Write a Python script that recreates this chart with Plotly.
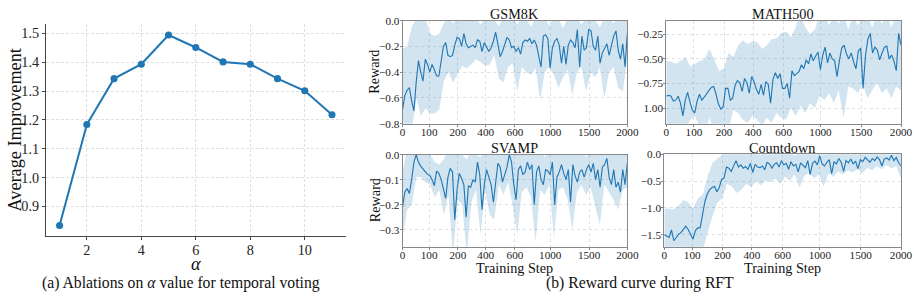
import plotly.graph_objects as go
import numpy as np

# ---------------- data ----------------
ALPHA = [1, 2, 3, 4, 5, 6, 7, 8, 9, 10, 11]
AVG_IMPROVEMENT = [0.834, 1.184, 1.343, 1.393, 1.494, 1.451, 1.401, 1.393, 1.343, 1.301, 1.218]

STEP_TICKS = [0, 100, 200, 400, 600, 1000, 1500, 2000]
STEP_TICK_FRAC = [0, 0.118, 0.246, 0.37, 0.50, 0.657, 0.83, 1.0]

GSM8K_MEAN = [
    -0.69, -0.58, -0.54, -0.52, -0.62, -0.70, -0.48, -0.31, -0.40, -0.47,
    -0.30, -0.34, -0.40, -0.34, -0.38, -0.43, -0.43, -0.33, -0.20, -0.17,
    -0.27, -0.28, -0.27, -0.19, -0.13, -0.14, -0.20, -0.10, -0.18, -0.21,
    -0.20, -0.19, -0.21, -0.15, -0.16, -0.24, -0.17, -0.20, -0.24, -0.21,
    -0.16, -0.09, -0.20, -0.28, -0.24, -0.18, -0.13, -0.15, -0.21, -0.20,
    -0.24, -0.21, -0.26, -0.17, -0.15, -0.16, -0.14, -0.18, -0.15, -0.19,
    -0.27, -0.36, -0.12, -0.11, -0.14, -0.37, -0.21, -0.16, -0.14, -0.19,
    -0.33, -0.20, -0.34, -0.19, -0.15, -0.17, -0.21, -0.07, -0.36, -0.12,
    -0.23, -0.21, -0.07, -0.08, -0.20, -0.23, -0.12, -0.33, -0.25, -0.21,
    -0.18, -0.27, -0.19, -0.12, -0.08, -0.23, -0.30, -0.18, -0.36, -0.10,
]
GSM8K_UPPER = [
    -0.22, -0.20, -0.05, 0.02, 0.02, 0.02, -0.10, -0.12, -0.10, -0.02,
    0.02, -0.02, 0.02, 0.02, 0.0, 0.02, 0.02, -0.03, 0.02, 0.02,
    0.0, -0.04, 0.02, 0.02, 0.02, -0.03, 0.02, 0.02, -0.05, 0.02,
    0.0, 0.02, -0.04, 0.02, 0.02, -0.06, 0.02, 0.0, 0.02, -0.03,
    0.02, 0.02, 0.0, -0.05, 0.02, 0.02, -0.02, 0.02, 0.0, 0.02,
]
GSM8K_LOWER = [
    -0.85, -0.85, -0.85, -0.60, -0.74, -0.68, -0.72, -0.72, -0.69, -0.47,
    -0.40, -0.48, -0.41, -0.35, -0.37, -0.34, -0.30, -0.32, -0.35, -0.34,
    -0.27, -0.45, -0.48, -0.36, -0.33, -0.55, -0.36, -0.40, -0.42, -0.37,
    -0.62, -0.40, -0.36, -0.42, -0.52, -0.44, -0.38, -0.58, -0.40, -0.36,
    -0.55, -0.40, -0.44, -0.36, -0.60, -0.40, -0.36, -0.52, -0.55, -0.30,
]

MATH500_MEAN = [
    -0.88, -0.87, -0.88, -0.93, -0.92, -0.88, -0.95, -1.08, -0.92, -0.84,
    -0.94, -1.02, -1.05, -0.93, -0.86, -0.92, -0.89, -0.85, -0.82, -0.79,
    -0.78, -0.86, -0.96, -1.01, -0.99, -0.80, -0.80, -0.92, -0.90, -0.77,
    -0.72, -0.74, -0.83, -0.70, -0.74, -0.85, -0.68, -0.73, -0.81, -0.86,
    -0.76, -0.87, -0.73, -0.76, -0.95, -0.71, -0.64, -0.70, -0.65, -0.80,
    -0.80, -0.75, -0.90, -0.62, -0.67, -0.65, -0.63, -0.56, -0.60, -0.51,
    -0.55, -0.45, -0.52, -0.47, -0.43, -0.61, -0.46, -0.38, -0.54, -0.44,
    -0.50, -0.52, -0.68, -0.52, -0.39, -0.36, -0.45, -0.50, -0.44, -0.53,
    -0.60, -0.42, -0.39, -0.80, -0.47, -0.30, -0.24, -0.44, -0.38, -0.41,
    -0.51, -0.44, -0.38, -0.37, -0.50, -0.46, -0.52, -0.62, -0.24, -0.36,
]
MATH500_UPPER = [
    -0.52, -0.53, -0.55, -0.52, -0.48, -0.58, -0.55, -0.52, -0.50, -0.40,
    -0.50, -0.62, -0.60, -0.44, -0.48, -0.36, -0.31, -0.35, -0.32, -0.33,
    -0.40, -0.36, -0.30, -0.29, -0.24, -0.22, -0.28, -0.18, -0.05, -0.18,
    -0.25, -0.20, -0.05, -0.05, -0.16, -0.05, -0.14, -0.05, -0.20, -0.05,
    -0.16, -0.05, -0.05, -0.18, -0.05, -0.14, -0.05, -0.18, -0.05, -0.05,
]
MATH500_LOWER = [
    -1.25, -1.25, -1.20, -1.25, -1.20, -1.12, -1.08, -1.20, -1.25, -1.10,
    -1.25, -1.20, -1.25, -1.22, -1.02, -1.05, -1.12, -1.15, -1.08, -1.12,
    -1.18, -1.10, -1.15, -1.05, -1.10, -1.12, -1.00, -1.08, -0.98, -1.05,
    -0.95, -1.00, -0.88, -0.92, -0.85, -0.95, -0.82, -1.10, -0.78, -0.80,
    -0.85, -0.75, -0.90, -0.82, -0.74, -0.85, -0.80, -0.90, -0.78, -0.82,
]

SVAMP_MEAN = [
    -0.21, -0.15, -0.135, -0.155, -0.10, -0.03, 0.0, -0.03, -0.046, -0.055,
    -0.068, -0.079, -0.083, -0.10, -0.124, -0.066, -0.075, -0.10, -0.14, -0.175,
    -0.09, -0.055, -0.07, -0.26, -0.14, -0.075, -0.095, -0.12, -0.25, -0.125,
    -0.13, -0.10, -0.11, -0.03, -0.08, -0.22, -0.12, -0.06, -0.09, -0.12,
    -0.19, -0.11, -0.035, -0.05, -0.11, -0.08, -0.05, 0.0, -0.03, -0.12,
    -0.18, -0.06, -0.045, -0.08, -0.07, -0.03, -0.06, -0.04, -0.20, -0.07,
    -0.045, -0.10, -0.12, -0.06, -0.065, -0.08, -0.03, -0.20, -0.09, -0.07,
    -0.04, -0.075, -0.10, -0.06, -0.19, -0.04, -0.085, -0.11, -0.07, -0.06,
    -0.09, -0.06, -0.04, -0.07, -0.035, -0.10, -0.06, -0.13, -0.05, -0.04,
    -0.015, -0.09, -0.12, -0.06, -0.13, -0.11, -0.15, -0.06, -0.12, -0.035,
]
SVAMP_UPPER = [
    -0.07, 0.02, 0.02, 0.02, 0.02, 0.0, 0.0, -0.03, -0.04, -0.02,
    0.02, 0.0, 0.02, 0.0, -0.02, 0.02, 0.0, -0.01, 0.02, 0.0,
    0.02, 0.02, 0.0, 0.02, 0.0, 0.02, 0.0, 0.02, 0.02, 0.0,
    0.02, -0.01, 0.02, 0.02, 0.0, 0.02, 0.02, 0.0, 0.02, 0.02,
    -0.01, 0.02, 0.02, 0.0, 0.02, 0.02, 0.02, 0.0, 0.02, 0.02,
]
SVAMP_LOWER = [
    -0.33, -0.22, -0.20, -0.09, -0.09, -0.11, -0.12, -0.17, -0.14, -0.24,
    -0.16, -0.40, -0.18, -0.20, -0.40, -0.19, -0.14, -0.32, -0.14, -0.24,
    -0.26, -0.12, -0.16, -0.11, -0.20, -0.32, -0.15, -0.13, -0.17, -0.35,
    -0.14, -0.16, -0.12, -0.33, -0.14, -0.13, -0.18, -0.30, -0.15, -0.12,
    -0.16, -0.13, -0.20, -0.28, -0.12, -0.15, -0.18, -0.22, -0.14, -0.13,
]

COUNTDOWN_MEAN = [
    -1.50, -1.53, -1.55, -1.41, -1.61, -1.55, -1.49, -1.46, -1.39, -1.34,
    -1.40, -1.48, -1.58, -1.42, -1.37, -1.37, -1.10, -0.88, -0.74, -0.66,
    -0.62, -0.60, -0.70, -0.62, -0.47, -0.44, -0.24, -0.26, -0.32, -0.22,
    -0.12, -0.24, -0.20, -0.26, -0.23, -0.28, -0.17, -0.34, -0.19, -0.24,
    -0.25, -0.22, -0.29, -0.15, -0.18, -0.26, -0.19, -0.16, -0.24, -0.12,
    -0.20, -0.17, -0.28, -0.14, -0.22, -0.19, -0.33, -0.16, -0.21, -0.25,
    -0.12, -0.38, -0.17, -0.13, -0.20, -0.03, -0.18, -0.22, -0.15, -0.10,
    -0.36, -0.14, -0.18, -0.08, -0.15, -0.32, -0.12, -0.16, -0.09, -0.18,
    -0.13, -0.27, -0.10, -0.14, -0.06, -0.11, -0.15, -0.08, -0.12, -0.05,
    -0.10, -0.22, -0.09, -0.07, -0.11, -0.02, -0.12, -0.06, -0.16, -0.22,
]
COUNTDOWN_UPPER = [
    -1.01, -1.01, -1.03, -0.95, -0.85, -0.90, -1.00, -0.82, -0.75, -0.40,
    -0.16, -0.08, -0.02, 0.05, 0.05, 0.05, 0.05, 0.05, 0.05, 0.05,
    -0.02, 0.05, 0.05, 0.05, 0.05, 0.05, 0.05, -0.03, 0.05, 0.05,
    0.05, 0.05, 0.05, 0.0, 0.05, 0.05, 0.05, 0.05, 0.05, 0.05,
    -0.01, 0.05, 0.05, 0.05, 0.05, 0.05, 0.05, 0.05, 0.05, 0.05,
]
COUNTDOWN_LOWER = [
    -1.90, -1.90, -1.90, -1.85, -1.90, -1.90, -1.90, -1.85, -1.78, -1.45,
    -1.15, -0.90, -0.82, -0.55, -0.60, -0.72, -0.66, -0.55, -0.62, -0.50,
    -0.58, -0.48, -0.52, -0.45, -0.55, -0.42, -0.50, -0.38, -0.62, -0.40,
    -0.35, -0.45, -0.38, -0.60, -0.36, -0.42, -0.32, -0.38, -0.30, -0.34,
    -0.28, -0.36, -0.25, -0.30, -0.22, -0.28, -0.20, -0.26, -0.22, -0.45,
]

# ---------------- styling / layout ----------------
W, H = 914, 297          # design coordinates (reference pixels)
K = 1.015                # render compensation factor
SERIF = "Liberation Serif, Times New Roman, serif"
BLUE = "#1f77b4"
BAND = "rgba(31,119,180,0.2)"
GRID = "#e0e0e0"


def px(x):
    return x / W


def py(y):
    return 1 - y / H


fig = go.Figure()

# Panel (a)
fig.add_trace(go.Scatter(
    x=ALPHA, y=AVG_IMPROVEMENT, mode="lines+markers",
    line=dict(color=BLUE, width=2 * K), marker=dict(color=BLUE, size=7 * K),
    xaxis="x", yaxis="y", showlegend=False, cliponaxis=False))

panels = [
    ("GSM8K", GSM8K_MEAN, GSM8K_UPPER, GSM8K_LOWER, "2"),
    ("MATH500", MATH500_MEAN, MATH500_UPPER, MATH500_LOWER, "3"),
    ("SVAMP", SVAMP_MEAN, SVAMP_UPPER, SVAMP_LOWER, "4"),
    ("Countdown", COUNTDOWN_MEAN, COUNTDOWN_UPPER, COUNTDOWN_LOWER, "5"),
]
for name, mean, up, lo, k in panels:
    xb = np.linspace(0, 1, len(up))
    xm = np.linspace(0, 1, len(mean))
    fig.add_trace(go.Scatter(
        x=np.concatenate([xb, xb[::-1]]), y=np.concatenate([np.array(up), np.array(lo)[::-1]]),
        fill="toself", fillcolor=BAND, line=dict(width=0), mode="lines",
        hoverinfo="skip", showlegend=False, xaxis="x" + k, yaxis="y" + k))
    fig.add_trace(go.Scatter(
        x=xm, y=mean, mode="lines", line=dict(color=BLUE, width=1.1 * K),
        showlegend=False, xaxis="x" + k, yaxis="y" + k, name=name))

tickfont_small = dict(family=SERIF, size=11 * K, color="#222")
tickfont_big = dict(family=SERIF, size=14 * K, color="#222")

layout = dict(
    width=round(W * K), height=round(H * K), margin=dict(l=0, r=0, t=0, b=0),
    paper_bgcolor="white", plot_bgcolor="white", showlegend=False,
    xaxis=dict(domain=[px(43), px(343)], anchor="y", range=[0.5, 11.5],
               tickvals=[2, 4, 6, 8, 10], tickfont=tickfont_big,
               showgrid=True, gridcolor=GRID, griddash="3px,2px", gridwidth=1,
               showline=True, linecolor="#444", linewidth=1, zeroline=False,
               ticks="outside", ticklen=3, tickcolor="#444", ticklabelstandoff=-2),
    yaxis=dict(domain=[py(236), py(18)], anchor="x", range=[0.799, 1.534],
               tickvals=[0.9, 1.0, 1.1, 1.2, 1.3, 1.4, 1.5],
               ticktext=["0.9", "1.0", "1.1", "1.2", "1.3", "1.4", "1.5"],
               tickfont=tickfont_big,
               showgrid=True, gridcolor=GRID, griddash="3px,2px", gridwidth=1,
               showline=True, linecolor="#444", linewidth=1, zeroline=False,
               ticks="outside", ticklen=3, tickcolor="#444"),
)

xt = [str(s) for s in STEP_TICKS]
boxes = {
    "2": (400, 625, 15, 121, [-0.8, 0.0], [0.0, -0.2, -0.4, -0.6, -0.8],
          ["0.0", "\u22120.2", "\u22120.4", "\u22120.6", "\u22120.8"]),
    "3": (664, 899, 15, 121, [-1.16, -0.11], [-0.25, -0.5, -0.75, -1.0],
          ["\u22120.25", "\u22120.50", "\u22120.75", "1.00"]),
    "4": (400, 625, 152.7, 247.3, [-0.367, 0.0], [0.0, -0.1, -0.2, -0.3],
          ["0.0", "\u22120.1", "\u22120.2", "\u22120.3"]),
    "5": (662, 899, 152.3, 247.3, [-1.72, 0.0], [0.0, -0.5, -1.0, -1.5],
          ["0.0", "\u22120.5", "\u22121.0", "\u22121.5"]),
}
for k, (x0, x1, y0, y1, yr, yv, ytxt) in boxes.items():
    layout["xaxis" + k] = dict(
        domain=[px(x0), px(x1)], anchor="y" + k, range=[0, 1],
        tickvals=STEP_TICK_FRAC, ticktext=xt, tickfont=tickfont_small,
        showgrid=True, gridcolor=GRID, gridwidth=1, griddash="dot",
        showline=True, mirror=True, linecolor="#888", linewidth=1, zeroline=False,
        ticks="outside", ticklen=2, tickcolor="#888", ticklabelstandoff=-4)
    layout["yaxis" + k] = dict(
        domain=[py(y1), py(y0)], anchor="x" + k, range=yr,
        tickvals=yv, ticktext=ytxt, tickfont=tickfont_small,
        showgrid=True, gridcolor=GRID, gridwidth=1, griddash="dot",
        showline=True, mirror=True, linecolor="#888", linewidth=1, zeroline=False,
        ticks="outside", ticklen=2, tickcolor="#888", ticklabelstandoff=-2)

fig.update_layout(**layout)

ann = []


def add_text(text, x, y, size, angle=0):
    ann.append(dict(text=text, x=px(x), y=py(y), xref="paper", yref="paper",
                    showarrow=False, xanchor="center", yanchor="middle",
                    textangle=angle, font=dict(family=SERIF, size=size * K, color="#111")))


add_text("Average Improvement", 12, 127, 18, -90)
add_text("<i>α</i>", 193, 265, 18)
add_text("(a) Ablations on <i>α</i> value for temporal voting", 178, 285, 15.5)
add_text("(b) Reward curve during RFT", 638, 285, 15.5)
add_text("GSM8K", 512, 8, 14)
add_text("MATH500", 781, 8, 14)
add_text("SVAMP", 512, 146, 14)
add_text("Countdown", 780, 146, 14)
add_text("Reward", 372, 68, 14, -90)
add_text("Reward", 372, 200, 14, -90)
add_text("Training Step", 512, 269, 14)
add_text("Training Step", 780, 269, 14)

fig.update_layout(annotations=ann)

POST = (
    "document.documentElement.style.margin='0';"
    "document.documentElement.style.overflow='hidden';"
    "document.body.style.margin='0';document.body.style.padding='0';"
    "document.body.style.overflow='hidden';"
    "var d=document.getElementById('{plot_id}');d.style.display='block';"
)
fig.write_html("out.html", config={"displayModeBar": False}, post_script=POST)
